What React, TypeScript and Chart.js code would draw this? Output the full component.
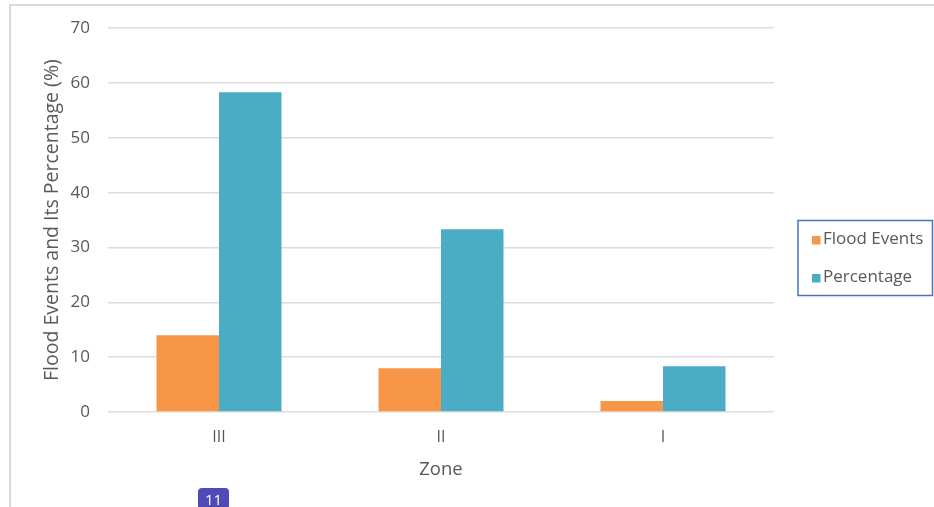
import React, { useEffect, useRef } from "react";
import { Chart, registerables } from "chart.js";

Chart.register(...registerables);

const categories = ["III", "II", "I"];
const floodEvents = [14, 8, 2];
const percentage = [58.33, 33.33, 8.33];
const yTicks = [0, 10, 20, 30, 40, 50, 60, 70];
const seriesNames = ["Flood Events", "Percentage"];
const seriesColors = ["#f79646", "#4bacc6"];

const FONT = "'Open Sans', 'Noto Sans', sans-serif";
const TEXT = "#595959";

const legendBox = {
  id: "legendBox",
  afterDraw(chart: any) {
    const ctx = chart.ctx;
    ctx.save();
    ctx.strokeStyle = "#4472c4";
    ctx.lineWidth = 1.5;
    ctx.strokeRect(798, 220.5, 134.5, 75);
    const rows = [239, 277];
    ctx.font = `17px ${FONT}`;
    ctx.textBaseline = "middle";
    ctx.textAlign = "left";
    chart.data.datasets.forEach((ds: any, i: number) => {
      const y = rows[i];
      ctx.fillStyle = ds.backgroundColor;
      ctx.fillRect(812, y - 3, 8.5, 8.5);
      ctx.fillStyle = TEXT;
      ctx.fillText(ds.label, 823, y);
    });
    ctx.restore();
  },
};

export default function App() {
  const ref = useRef<HTMLCanvasElement>(null);
  useEffect(() => {
    if (!ref.current) return;
    const chart = new Chart(ref.current, {
      type: "bar",
      data: {
        labels: categories,
        datasets: [
          { label: seriesNames[0], data: floodEvents, backgroundColor: seriesColors[0] },
          { label: seriesNames[1], data: percentage, backgroundColor: seriesColors[1] },
        ],
      },
      options: {
        animation: false,
        responsive: true,
        maintainAspectRatio: false,
        layout: { padding: { left: 41, top: 28, right: 160, bottom: 26 } },
        datasets: { bar: { categoryPercentage: 0.563, barPercentage: 1 } },
        plugins: { legend: { display: false }, tooltip: { enabled: false } },
        scales: {
          x: {
            grid: { display: false, drawTicks: false },
            border: { display: false },
            ticks: { color: TEXT, font: { family: FONT, size: 16 }, padding: 16 },
            title: { display: true, text: "Zone", color: TEXT, font: { family: FONT, size: 18.5 }, padding: 0 },
            afterFit: (s: any) => { s.height = 69; },
          },
          y: {
            min: 0,
            max: 70,
            afterBuildTicks: (s: any) => { s.ticks = yTicks.map((v) => ({ value: v })); },
            grid: { color: "#dcdcdc", lineWidth: 1.5, drawTicks: false },
            border: { display: false },
            ticks: { color: TEXT, font: { family: FONT, size: 17 }, padding: 18 },
            title: {
              display: true,
              text: "Flood Events and Its Percentage (%)",
              color: TEXT,
              font: { family: FONT, size: 19.5 },
              padding: 0,
            },
            afterFit: (s: any) => { s.width = 67; },
          },
        },
      },
      plugins: [legendBox],
    });
    return () => chart.destroy();
  }, []);
  return (
    <div style={{ position: "fixed", left: 0, top: 0, width: 934, height: 507, background: "#fff" }}>
      <canvas ref={ref} />
      <div
        style={{
          position: "absolute",
          left: 9,
          top: 4,
          width: 925,
          height: 503,
          borderTop: "2px solid #d9d9d9",
          borderLeft: "2px solid #d9d9d9",
          pointerEvents: "none",
        }}
      />
      <div
        style={{
          position: "absolute",
          left: 198,
          top: 488,
          width: 31,
          height: 22,
          background: "#4f4ab5",
          borderRadius: 4,
          color: "#fff",
          fontFamily: FONT,
          fontSize: 15,
          lineHeight: "22px",
          textAlign: "center",
        }}
      >
        11
      </div>
    </div>
  );
}
